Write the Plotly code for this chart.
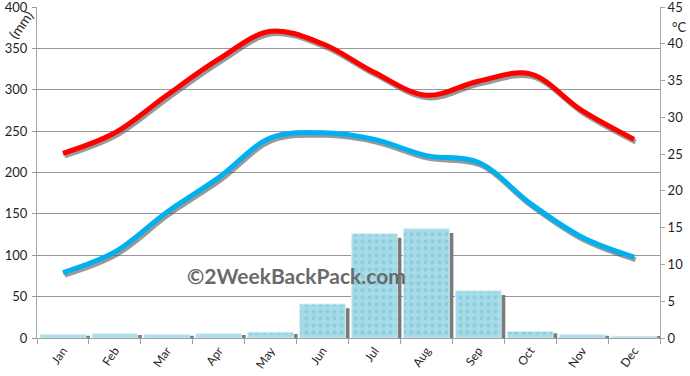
import plotly.graph_objects as go

months = ["Jan", "Feb", "Mar", "Apr", "May", "Jun", "Jul", "Aug", "Sep", "Oct", "Nov", "Dec"]
rain_mm = [4, 5, 4, 5, 7, 41, 126, 132, 57, 8, 4, 2]
max_c = [25.1, 27.9, 33.0, 37.9, 41.7, 40.0, 36.1, 33.0, 34.9, 35.9, 30.9, 27.0]
min_c = [8.9, 11.7, 17.1, 21.8, 27.2, 27.9, 27.0, 24.8, 23.9, 18.3, 13.7, 11.0]
left_ticks = list(range(0, 401, 50))
right_ticks = list(range(0, 46, 5))

idx = list(range(len(months)))
FONT = "Lato"

fig = go.Figure()

# bar shadows
fig.add_trace(go.Bar(
    x=idx, y=[v - min(5, v * 0.3) for v in rain_mm], width=0.88, offset=-0.36,
    marker=dict(color="#7b7b7b", line=dict(width=0)), yaxis="y", hoverinfo="skip",
    showlegend=False))
# bars
fig.add_trace(go.Bar(
    x=idx, y=rain_mm, width=0.88, offset=-0.44,
    marker=dict(color="#a8dce8",
                line=dict(color="#d4eff5", width=1),
                pattern=dict(shape=".", bgcolor="#a6dbe7", fgcolor="#74c0d4",
                             size=7, solidity=0.3)),
    yaxis="y", showlegend=False))

# line shadows and lines
for vals, col in [(max_c, "#ff0000"), (min_c, "#00b0f0")]:
    fig.add_trace(go.Scatter(
        x=[i + 0.03 for i in idx], y=[v - 0.35 for v in vals], mode="lines",
        line=dict(color="rgba(85,85,85,0.6)", width=5, shape="spline"),
        yaxis="y2", hoverinfo="skip", showlegend=False))
    fig.add_trace(go.Scatter(
        x=idx, y=vals, mode="lines",
        line=dict(color=col, width=5, shape="spline"),
        yaxis="y2", showlegend=False))

fig.update_layout(
    width=690, height=376,
    margin=dict(l=37, r=30, t=7, b=38, autoexpand=False),
    paper_bgcolor="white", plot_bgcolor="white",
    barmode="overlay",
    font=dict(family=FONT, size=13, color="#1f1f1f"),
    xaxis=dict(
        range=[-0.5, 11.5], tickmode="array", tickvals=idx, ticktext=months,
        ticks="", tickangle=-55, showgrid=False, zeroline=False, automargin=False,
        showline=True, linecolor="#a0a0a0", linewidth=1,
        tickfont=dict(size=12),
        minor=dict(tickmode="array", tickvals=[i - 0.5 for i in range(13)],
                   ticks="outside", ticklen=5, tickcolor="#a0a0a0", showgrid=False),
    ),
    yaxis=dict(
        range=[0, 400], tickmode="array", tickvals=left_ticks, automargin=False,
        showgrid=True, gridcolor="#989898", gridwidth=1, zeroline=False,
        showline=True, linecolor="#a6a6a6", ticks="outside", ticklen=4,
        tickcolor="#989898", ticklabelstandoff=2, ticklabeloverflow="allow",
    ),
    yaxis2=dict(
        range=[0, 45], tickmode="array", tickvals=right_ticks, automargin=False,
        overlaying="y", side="right", showgrid=False, zeroline=False,
        showline=True, linecolor="#a6a6a6", ticks="outside", ticklen=4,
        tickcolor="#a6a6a6", ticklabeloverflow="allow",
    ),
    annotations=[
        dict(text="(mm)", xref="paper", yref="paper", x=-0.0257, y=0.946,
             xanchor="center", yanchor="middle",
             showarrow=False, textangle=-55, font=dict(size=14, color="#1f1f1f")),
        dict(text="°C", xref="paper", yref="paper", x=1.016, y=0.94,
             xanchor="left", yanchor="middle",
             showarrow=False, font=dict(size=13, color="#1f1f1f")),
        dict(text="©2WeekBackPack.com", xref="paper", yref="paper", x=0.416, y=0.19,
             xanchor="center", yanchor="middle",
             showarrow=False, font=dict(family=FONT, size=21, color="#6a6a6a", weight="bold")),
    ],
)

fig.write_html("out.html", config={"displayModeBar": False},
               post_script="document.body.style.margin='0';document.body.style.overflow='hidden';")
